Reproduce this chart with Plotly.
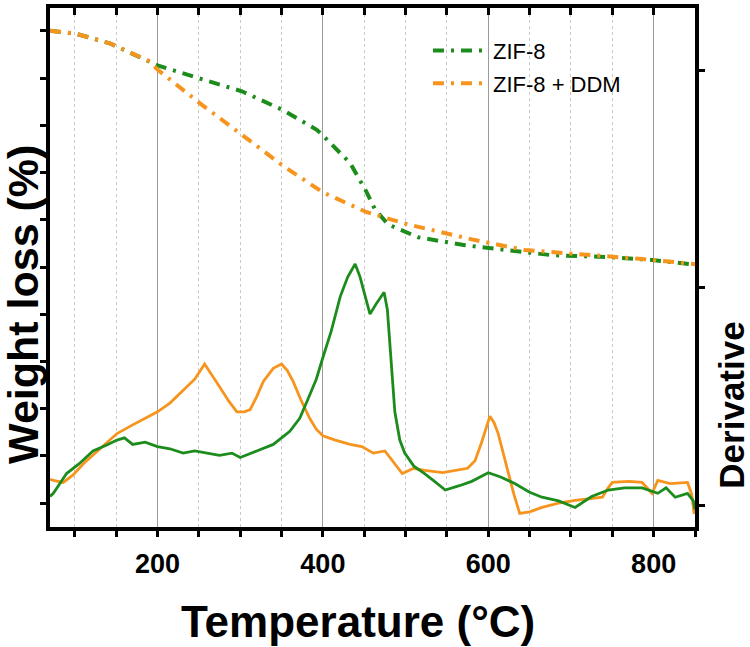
import plotly.graph_objects as go

# ---------------- data ----------------
zif8_tga_T = [70, 101, 143, 170, 191, 200, 251, 302, 352, 393, 403, 417, 433, 453, 463, 479, 515, 572, 602, 677, 745, 798, 850]
zif8_tga_W = [100.0, 99.4, 97.3, 95.2, 93.5, 92.7, 89.9, 87.2, 83.2, 79.0, 77.3, 74.8, 72.0, 65.8, 62.2, 59.0, 56.3, 54.6, 54.0, 52.5, 52.1, 51.5, 50.5]

ddm_tga_T = [70, 101, 143, 170, 191, 200, 251, 302, 352, 400, 453, 503, 544, 584, 644, 725, 786, 850]
ddm_tga_W = [100.0, 99.4, 97.3, 95.2, 93.5, 91.8, 84.7, 78.0, 71.4, 65.8, 61.6, 59.0, 57.4, 55.7, 53.6, 52.5, 51.7, 50.6]

zif8_dtg_T = [70, 74, 82, 90, 105, 122, 140, 151, 160, 170, 185, 200, 215, 231, 245, 260, 275, 290, 300,
              320, 340, 360, 372, 381, 392, 400, 410, 421, 430, 439, 445, 452, 457, 465, 474, 478, 481, 487,
              493, 499, 510, 523, 535, 548, 565, 580, 600, 615, 632, 650, 665, 685, 705, 725, 745, 765, 786,
              805, 815, 826, 841, 848, 850]
zif8_dtg_D = [0.04, 0.055, 0.10, 0.146, 0.19, 0.25, 0.28, 0.30, 0.31, 0.28, 0.29, 0.27, 0.26, 0.24, 0.25, 0.24, 0.23, 0.24, 0.22,
              0.25, 0.28, 0.34, 0.40, 0.48, 0.58, 0.68, 0.80, 0.96, 1.05, 1.11, 1.05, 0.95, 0.88, 0.93, 0.98, 0.90, 0.74, 0.43,
              0.30, 0.24, 0.18, 0.146, 0.11, 0.07, 0.09, 0.11, 0.15, 0.13, 0.10, 0.06, 0.037, 0.02, -0.01, 0.04, 0.07, 0.08, 0.08,
              0.055, 0.08, 0.037, 0.055, 0.02, -0.02]

ddm_dtg_T = [70, 74, 86, 98, 110, 130, 151, 170, 185, 200, 215, 231, 245, 257, 266, 276, 286, 296, 305, 312, 320,
             328, 340, 350, 357, 364, 374, 384, 392, 400, 415, 433, 447, 461, 475, 485, 496, 510, 523, 545, 563,
             575, 584, 592, 602, 607, 612, 618, 624, 631, 638, 650, 665, 685, 705, 720, 738, 745, 750, 770, 786,
             798, 805, 820, 841, 846, 849]
ddm_dtg_D = [0.12, 0.114, 0.105, 0.14, 0.19, 0.26, 0.33, 0.37, 0.40, 0.43, 0.47, 0.53, 0.58, 0.65, 0.60, 0.54, 0.48, 0.43, 0.43, 0.44, 0.50,
             0.57, 0.63, 0.65, 0.62, 0.57, 0.48, 0.40, 0.35, 0.32, 0.30, 0.28, 0.27, 0.24, 0.25, 0.20, 0.146, 0.17, 0.16, 0.15, 0.16,
             0.17, 0.205, 0.29, 0.41, 0.38, 0.33, 0.24, 0.146, 0.05, -0.037, -0.03, -0.01, 0.01, 0.023, 0.03, 0.037, 0.08, 0.105, 0.11, 0.105,
             0.055, 0.114, 0.10, 0.105, 0.05, -0.04]

series_names = ["ZIF-8", "ZIF-8 + DDM"]
x_tick_labels = [200, 400, 600, 800]
x_title = "Temperature (°C)"
y_title = "Weight loss (%)"
y2_title = "Derivative"

GREEN = "#1c8c1c"
ORANGE = "#f7941d"
FONT = "Liberation Sans, Arial, sans-serif"
DASH = "11px,7px,3px,7px"

fig = go.Figure()

# derivative curves (right axis)
fig.add_trace(go.Scatter(x=ddm_dtg_T, y=ddm_dtg_D, yaxis="y2", mode="lines",
                         line=dict(color=ORANGE, width=2.8), showlegend=False, hoverinfo="skip"))
fig.add_trace(go.Scatter(x=zif8_dtg_T, y=zif8_dtg_D, yaxis="y2", mode="lines",
                         line=dict(color=GREEN, width=2.8), showlegend=False, hoverinfo="skip"))

# TGA curves (left axis)
fig.add_trace(go.Scatter(x=zif8_tga_T, y=zif8_tga_W, mode="lines", name=series_names[0],
                         legendgroup="a", line=dict(color=GREEN, width=4, dash=DASH)))
fig.add_trace(go.Scatter(x=ddm_tga_T, y=ddm_tga_W, xaxis="x2", mode="lines", name=series_names[1],
                         legendgroup="b", line=dict(color=ORANGE, width=4, dash=DASH)))

axis_black = dict(showline=True, linecolor="black", linewidth=3.5, zeroline=False)

fig.update_layout(
    width=750, height=647,
    margin=dict(l=50, r=55, t=4, b=120),
    paper_bgcolor="white", plot_bgcolor="white",
    font=dict(family=FONT, color="black"),
    xaxis=dict(
        **axis_black, range=[70, 850], mirror=True,
        ticks="outside", ticklen=6, tickwidth=2.5, tickcolor="black",
        tickvals=x_tick_labels, ticktext=[str(v) for v in x_tick_labels],
        tickfont=dict(size=27, family=FONT, weight="bold"), ticklabelstandoff=4,
        showgrid=True, gridcolor="#9a9a9a", gridwidth=1.2,
        minor=dict(dtick=50, tick0=0, ticks="outside", ticklen=6, tickwidth=2.5, tickcolor="black",
                   showgrid=True, gridcolor="#c8c8c8", griddash="dot", gridwidth=1),
    ),
    xaxis2=dict(overlaying="x", side="top", anchor="y", range=[70, 850], matches="x", showline=False,
                ticks="inside", ticklen=7, tickwidth=2.5, tickcolor="black",
                tick0=0, dtick=50, showticklabels=False, showgrid=False, zeroline=False),
    yaxis=dict(**axis_black, range=[-5.04, 104.83], ticks="outside", ticklen=6, tickwidth=2.5,
               tickcolor="black", tick0=0, dtick=10, showticklabels=False, showgrid=False),
    yaxis2=dict(**axis_black, overlaying="y", side="right", anchor="x", range=[-0.1, 2.288],
                ticks="outside", ticklen=6, tickwidth=2.5, tickcolor="black",
                tickvals=[0, 1, 2], showticklabels=False, showgrid=False),
    legend=dict(x=0.586, y=0.958, xanchor="left", yanchor="top", bgcolor="rgba(0,0,0,0)",
                font=dict(size=22, family=FONT), itemwidth=55, tracegroupgap=1,
                traceorder="grouped"),
    showlegend=True,
    annotations=[
        dict(text=x_title, xref="paper", yref="paper", x=0.4775, y=-0.182, xanchor="center", yanchor="middle",
             showarrow=False, font=dict(size=44, family=FONT, weight="bold")),
        dict(text=y_title, xref="paper", yref="paper", x=-0.0418, y=0.428, xanchor="center", yanchor="middle",
             textangle=-90, showarrow=False, font=dict(size=43, family=FONT, weight="bold")),
        dict(text=y2_title, xref="paper", yref="paper", x=1.056, y=0.234, xanchor="center", yanchor="middle",
             textangle=-90, showarrow=False, font=dict(size=35, family=FONT, weight="bold")),
    ],
)

fig.write_html("out.html", config={"displayModeBar": False},
               post_script="document.body.style.margin='0';document.body.style.padding='0';")
